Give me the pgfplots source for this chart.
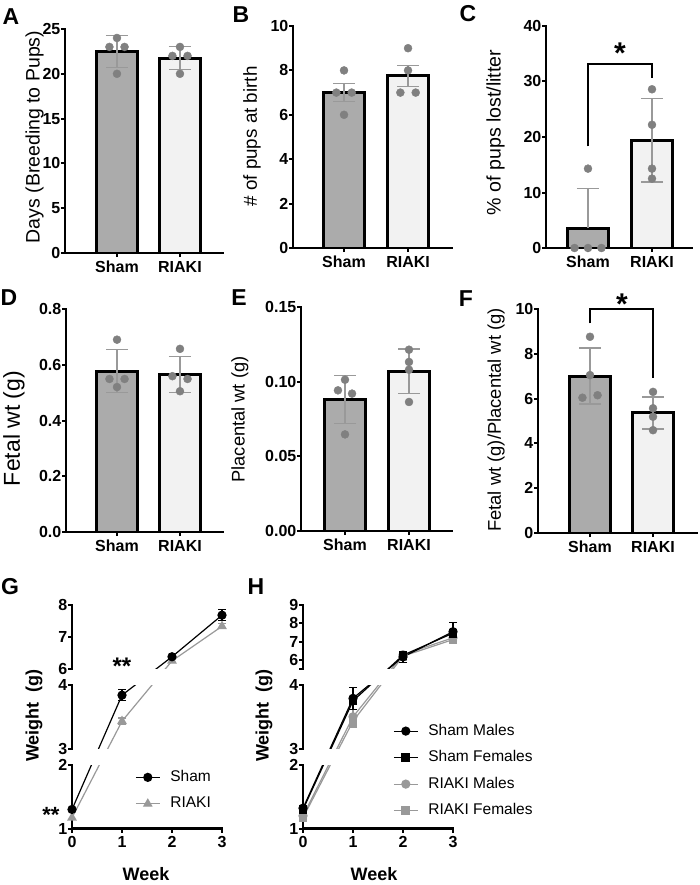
\documentclass[border=0pt]{standalone}
\usepackage{pgfplots}
\usepackage{pgfplotstable}
\pgfplotsset{compat=1.18}
\usepackage{fontspec}
\setmainfont{Liberation Sans}

\definecolor{shamfill}{gray}{0.67}
\definecolor{riakifill}{gray}{0.95}
\definecolor{dotgray}{gray}{0.5}
\definecolor{errgray}{gray}{0.6}
\definecolor{riakiline}{gray}{0.6}

\newcommand{\fs}[1]{\fontsize{#1}{#1}\selectfont}

% weights by week (panels G and H)
\pgfplotstableread{
w sham riaki
0 1.30 1.17
1 3.84 3.43
2 6.37 6.24
3 7.68 7.33
}\Gtab
\pgfplotstableread{
w sm sf rm rf
0 1.32 1.30 1.20 1.17
1 3.79 3.75 3.50 3.43
2 6.18 6.27 6.30 6.22
3 7.55 7.47 7.22 7.12
}\Htab

% broken y axis: 1-2 | 3-4 | a..(a+s), as one continuous scale
\newcommand\brk[3]{\begingroup\pgfkeys{/pgf/fpu=true,/pgf/fpu/output format=fixed}%
  \pgfmathparse{ifthenelse(#1<2.5,#1-1,ifthenelse(#1<5,#1-1.74,(#1-#2)/#3+2.52))}%
  \xdef\brkres{\pgfmathresult}\endgroup\let\pgfmathresult\brkres}
\newcommand\ibrk[3]{\begingroup\pgfkeys{/pgf/fpu=true,/pgf/fpu/output format=fixed}%
  \pgfmathparse{ifthenelse(#1<1.13,#1+1,ifthenelse(#1<2.39,#1+1.74,(#1-2.52)*#3+#2))}%
  \xdef\brkres{\pgfmathresult}\endgroup\let\pgfmathresult\brkres}

\pgfplotsset{
  base/.style={scale only axis, anchor=south west,
    axis line style={line width=2.2pt, line cap=rect},
    tick align=outside, major tick length=4pt,
    tick style={black, line width=2pt},
    tick label style={font=\fs{16}\bfseries},
    /pgf/number format/assume math mode=true,
    yticklabel style={inner sep=0.5pt},
    xticklabel style={inner sep=1pt, yshift=-3pt}},
  barpanel/.style={base, clip mode=individual, axis x line*=bottom, axis y line*=left,
    xtick={0,1}, xticklabels={Sham,RIAKI}},
  shambar/.style={ybar, bar shift=0pt, bar width=0.64, fill=shamfill, draw=black, line width=3pt},
  riakibar/.style={ybar, bar shift=0pt, bar width=0.64, fill=riakifill, draw=black, line width=3pt},
  errs/.style={forget plot, draw=none, mark=none,
    error bars/y dir=both, error bars/y explicit,
    error bars/error bar style={draw=errgray, line width=1.5pt},
    error bars/error mark options={rotate=90, mark size=11pt, draw=errgray, line width=1.5pt}},
  dots/.style={only marks, mark=*, mark size=4pt, mark options={draw=dotgray, fill=dotgray}},
  seg/.style={base, axis y line*=left, xmin=0, xmax=3, width=150pt, height=63.5pt},
  segup/.style={seg, axis x line=none, xtick=\empty},
  segbot/.style={seg, axis x line*=bottom, xtick={0,1,2,3}},
  over/.style={seg, hide axis, clip=false, height=223.5pt, ymin=1},
  trafoG/.style={y coord trafo/.code={\brk{##1}{6}{2}}, y coord inv trafo/.code={\ibrk{##1}{6}{2}}},
  trafoH/.style={y coord trafo/.code={\brk{##1}{5.55}{3.45}}, y coord inv trafo/.code={\ibrk{##1}{5.55}{3.45}}},
  ln/.style={#1, line width=1.2pt, mark=none},
  shamG/.style={black, line width=1.2pt, mark=*, mark size=4pt, mark options={solid, fill=black}},
  riakiG/.style={riakiline, line width=1.2pt, mark=triangle*, mark size=4.5pt, mark options={solid, fill=riakiline}},
  whisk/.style={forget plot, #1, line width=1.2pt, mark=-, mark size=4pt, mark options={solid}},
  legG/.style={legend style={draw=none, fill=none, inner sep=0pt, font=\fs{15.5},
      nodes={inner sep=1pt, text height=12pt, text depth=4pt}, row sep=8.5pt, column sep=9pt},
    legend cell align=left,
    legend image code/.code={\draw[mark repeat=2, mark phase=2, ##1] plot coordinates {(0pt,0pt) (12pt,0pt) (24pt,0pt)};}},
}

\newcommand\Glines{%
  \addplot[ln=riakiline] table[x=w, y=riaki] {\Gtab};
  \addplot[ln=black] table[x=w, y=sham] {\Gtab};
}
\newcommand\Hlines{%
  \addplot[ln=riakiline] table[x=w, y=rf] {\Htab};
  \addplot[ln=riakiline] table[x=w, y=rm] {\Htab};
  \addplot[ln=black] table[x=w, y=sf] {\Htab};
  \addplot[ln=black] table[x=w, y=sm] {\Htab};
}

\begin{document}
\begin{tikzpicture}

% ---------- A ----------
\begin{axis}[barpanel, at={(65pt,-253pt)}, width=158pt, height=224pt,
  xmin=-0.825, xmax=1.683, ymin=0, ymax=25, ytick={0,5,...,25}]
\addplot[shambar] coordinates {(0,22.5)};
\addplot[riakibar] coordinates {(1,21.75)};
\addplot[errs] coordinates {(0,22.5) +- (0,1.77) (1,21.75) +- (0,1.28)};
\addplot[dots] coordinates {(0,24) (-0.12,23) (0.12,23) (0,20) (1,23) (0.88,22) (1.12,22) (1,20)};
\end{axis}

% ---------- B ----------
\begin{axis}[barpanel, at={(293pt,-248pt)}, width=159pt, height=222pt,
  xmin=-0.797, xmax=1.687, ymin=0, ymax=10, ytick={0,2,...,10}]
\addplot[shambar] coordinates {(0,7)};
\addplot[riakibar] coordinates {(1,7.75)};
\addplot[errs] coordinates {(0,7) +- (0,0.41) (1,7.75) +- (0,0.48)};
\addplot[dots] coordinates {(0,8) (-0.12,7) (0.12,7) (0,6) (1,9) (1,8) (0.88,7) (1.12,7)};
\end{axis}

% ---------- C ----------
\begin{axis}[barpanel, at={(546pt,-248pt)}, width=146pt, height=222pt,
  xmin=-0.656, xmax=1.625, ymin=0, ymax=40, ytick={0,10,...,40}]
\addplot[shambar] coordinates {(0,3.57)};
\addplot[riakibar] coordinates {(1,19.4)};
\addplot[errs, error bars/y dir=plus] coordinates {(0,3.57) +- (0,7.14)};
\addplot[errs] coordinates {(1,19.4) +- (0,7.5)};
\addplot[dots] coordinates {(-0.21,0) (0,0) (0.21,0) (0,14.3) (1,28.6) (1,22.2) (1,14.3) (1,12.5)};
\draw[line width=2pt] (axis cs:0,18.3) |- (axis cs:1,33.1) -- (axis cs:1,30.7);
\end{axis}

% ---------- D ----------
\begin{axis}[barpanel, at={(66pt,-532pt)}, width=157pt, height=223pt,
  xmin=-0.81, xmax=1.683, ymin=0, ymax=0.8, ytick={0,0.2,0.4,0.6,0.8},
  yticklabels={0.0,0.2,0.4,0.6,0.8}]
\addplot[shambar] coordinates {(0,0.577)};
\addplot[riakibar] coordinates {(1,0.565)};
\addplot[errs] coordinates {(0,0.577) +- (0,0.077) (1,0.565) +- (0,0.065)};
\addplot[dots] coordinates {(0,0.69) (-0.12,0.549) (0.12,0.549) (0,0.52) (1,0.657) (0.88,0.559) (1.12,0.549) (1,0.505)};
\end{axis}

% ---------- E ----------
\begin{axis}[barpanel, at={(301pt,-531pt)}, width=151pt, height=224pt,
  xmin=-0.6875, xmax=1.672, ymin=0, ymax=0.15, ytick={0,0.05,0.10,0.15},
  yticklabels={0.00,0.05,0.10,0.15}]
\addplot[shambar] coordinates {(0,0.088)};
\addplot[riakibar] coordinates {(1,0.107)};
\addplot[errs] coordinates {(0,0.088) +- (0,0.016) (1,0.107) +- (0,0.015)};
\addplot[dots] coordinates {(0,0.1013) (-0.11,0.0942) (0.11,0.092) (0,0.0647) (1,0.1214) (1,0.1132) (1,0.108) (1,0.0864)};
\end{axis}

% ---------- F ----------
\begin{axis}[barpanel, at={(538pt,-533pt)}, width=159pt, height=224pt,
  xmin=-0.825, xmax=1.698, ymin=0, ymax=10, ytick={0,2,...,10}]
\addplot[shambar] coordinates {(0,7.0)};
\addplot[riakibar] coordinates {(1,5.36)};
\addplot[errs] coordinates {(0,7.0) +- (0,1.25) (1,5.36) +- (0,0.72)};
\addplot[dots] coordinates {(0,8.76) (0,7.05) (-0.12,6.04) (0.12,6.15) (1,6.30) (1,5.57) (1,5.19) (1,4.59)};
\draw[line width=2pt] (axis cs:0,9.36) |- (axis cs:1,9.98) -- (axis cs:1,6.9);
\end{axis}

% ---------- G (broken axis: three clipped segments + one overlay for marks) ----------
\begin{axis}[segbot, trafoG, at={(72pt,-828.5pt)}, ymin=1, ymax=2, ytick={1,2}, yticklabels={1,2}]
\Glines
\end{axis}
\begin{axis}[segup, trafoG, at={(72pt,-748.5pt)}, ymin=3, ymax=4, ytick={3,4}, yticklabels={3,4}]
\Glines
\end{axis}
\begin{axis}[segup, trafoG, at={(72pt,-668.5pt)}, ymin=6, ymax=8, ytick={6,7,8}, yticklabels={6,7,8}]
\Glines
\end{axis}
\begin{axis}[over, trafoG, at={(72pt,-828.5pt)}, ymax=8,
  legG, legend style={at={(0.42,0.27)}, anchor=north west}]
\addlegendimage{shamG}\addlegendentry{Sham}
\addlegendimage{riakiG}\addlegendentry{RIAKI}
\addplot[whisk=riakiline] coordinates {(1,3.38) (1,3.48)};
\addplot[whisk=riakiline] coordinates {(3,7.25) (3,7.41)};
\addplot[whisk=black] coordinates {(1,3.75) (1,3.93)};
\addplot[whisk=black] coordinates {(3,7.50) (3,7.86)};
\addplot[riakiG, only marks, forget plot] table[x=w, y=riaki] {\Gtab};
\addplot[shamG, only marks, forget plot] table[x=w, y=sham] {\Gtab};
\end{axis}

% ---------- H ----------
\begin{axis}[segbot, trafoH, at={(303pt,-828.5pt)}, ymin=1, ymax=2, ytick={1,2}, yticklabels={1,2}]
\Hlines
\end{axis}
\begin{axis}[segup, trafoH, at={(303pt,-748.5pt)}, ymin=3, ymax=4, ytick={3,4}, yticklabels={3,4}]
\Hlines
\end{axis}
\begin{axis}[segup, trafoH, at={(303pt,-668.5pt)}, ymin=5.55, ymax=9, ytick={6,7,8,9}, yticklabels={6,7,8,9},
  extra y ticks={5.55}, extra y tick labels={}]
\Hlines
\end{axis}
\begin{axis}[over, trafoH, at={(303pt,-828.5pt)}, ymax=9,
  legG, legend style={at={(0.6,0.477)}, anchor=north west}]
\addlegendimage{shamG}\addlegendentry{Sham Males}
\addlegendimage{shamG, mark=square*, mark size=3.8pt}\addlegendentry{Sham Females}
\addlegendimage{riakiG, mark=*, mark size=4pt}\addlegendentry{RIAKI Males}
\addlegendimage{riakiG, mark=square*, mark size=3.8pt}\addlegendentry{RIAKI Females}
\addplot[whisk=riakiline] coordinates {(1,3.34) (1,3.62)};
\addplot[whisk=riakiline] coordinates {(3,7.00) (3,7.25)};
\addplot[whisk=black] coordinates {(1,3.62) (1,3.96)};
\addplot[whisk=black] coordinates {(2,5.88) (2,6.45)};
\addplot[whisk=black] coordinates {(3,7.05) (3,8.06)};
\addplot[riakiG, only marks, forget plot, mark=square*, mark size=3.8pt] table[x=w, y=rf] {\Htab};
\addplot[riakiG, only marks, forget plot, mark=*, mark size=4pt] table[x=w, y=rm] {\Htab};
\addplot[shamG, only marks, forget plot, mark=square*, mark size=3.8pt] table[x=w, y=sf] {\Htab};
\addplot[shamG, only marks, forget plot] table[x=w, y=sm] {\Htab};
\end{axis}

% ---------- labels ----------
\begin{scope}[every node/.style={inner sep=0pt}]
\node[rotate=90, font=\fs{19.5}] at (34.5pt,-137pt) {Days (Breeding to Pups)};
\node[rotate=90, font=\fs{18.8}] at (252pt,-136.5pt) {\# of pups at birth};
\node[rotate=90, font=\fs{19.6}] at (495.5pt,-132.5pt) {\% of pups lost/litter};
\node[rotate=90, font=\fs{23}] at (14pt,-428.5pt) {Fetal wt (g)};
\node[rotate=90, font=\fs{18.3}] at (240pt,-419.5pt) {Placental wt (g)};
\node[rotate=90, font=\fs{18.4}] at (496pt,-420pt) {Fetal wt (g)/Placental wt (g)};
\node[rotate=90, font=\fs{18}\bfseries] at (34pt,-715.5pt) {Weight\ \ (g)};
\node[rotate=90, font=\fs{18}\bfseries] at (264pt,-715.5pt) {Weight\ \ (g)};
\node[font=\fs{18}\bfseries] at (146pt,-874pt) {Week};
\node[font=\fs{18}\bfseries] at (374pt,-874pt) {Week};
\node[font=\fs{30}\bfseries, anchor=base] at (620pt,-64pt) {*};
\node[font=\fs{30}\bfseries, anchor=base] at (622pt,-314pt) {*};
\node[font=\fs{24}\bfseries, anchor=base] at (122pt,-674pt) {**};
\node[font=\fs{22}\bfseries, anchor=base] at (51pt,-822pt) {**};
\node[font=\fs{23}\bfseries] at (11pt,-16.5pt) {A};
\node[font=\fs{23}\bfseries] at (241pt,-15pt) {B};
\node[font=\fs{23}\bfseries] at (468pt,-14pt) {C};
\node[font=\fs{23}\bfseries] at (9pt,-298pt) {D};
\node[font=\fs{23}\bfseries] at (239pt,-298pt) {E};
\node[font=\fs{23}\bfseries] at (466pt,-299pt) {F};
\node[font=\fs{23}\bfseries] at (10pt,-587pt) {G};
\node[font=\fs{23}\bfseries] at (256pt,-587pt) {H};
\end{scope}

\pgfresetboundingbox
\path[use as bounding box] (0,0) rectangle (699pt,-885pt);
\end{tikzpicture}
\end{document}
